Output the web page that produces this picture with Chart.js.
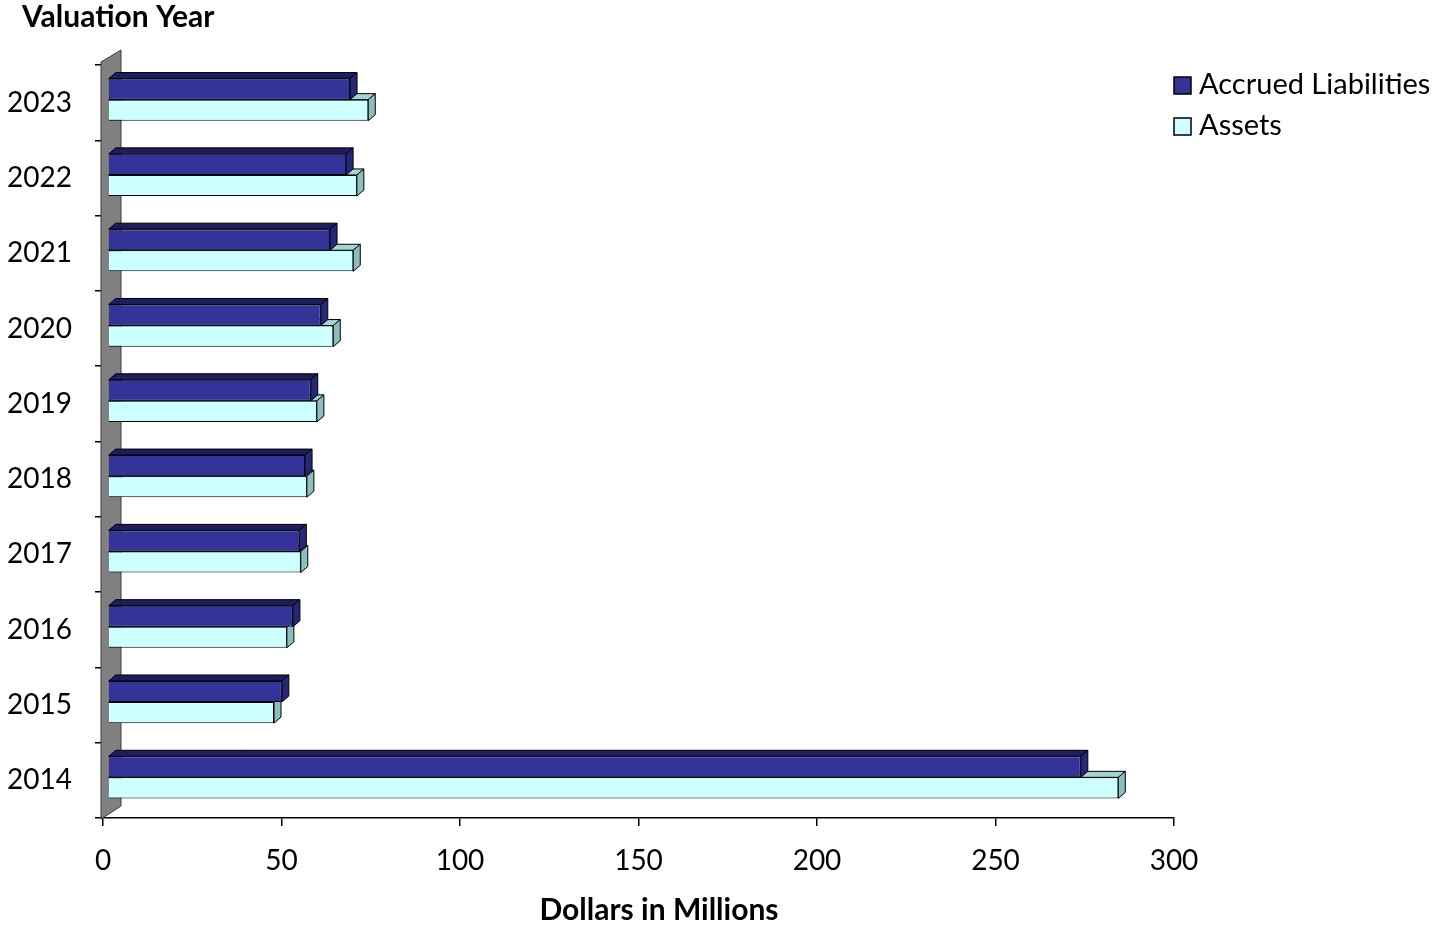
<!DOCTYPE html>
<html>
<head>
<meta charset="utf-8">
<script src="https://cdn.jsdelivr.net/npm/chart.js@4"></script>
<style>
  body { margin: 0; background: #fff; }
  #wrap { width: 1437px; height: 927px; }
</style>
</head>
<body>
<div id="wrap"><canvas id="valuation" width="1437" height="927"></canvas></div>
<script>
const years = ['2023', '2022', '2021', '2020', '2019', '2018', '2017', '2016', '2015', '2014'];
const accruedLiabilities = [67.8, 66.7, 62.2, 59.6, 56.8, 55.2, 53.6, 51.8, 48.7, 272.5];
const assets = [72.9, 69.7, 68.7, 63.1, 58.5, 55.7, 54.0, 50.1, 46.5, 283.0];
const xTicks = [0, 50, 100, 150, 200, 250, 300];

const FONT = 'Lato, "Open Sans", sans-serif';
const DX = 7, DY = 6;        // depth of the 3d bars
const SHIFT_X = 5, SHIFT_Y = -3;

const faces = [
  { top: '#1d1d60', side: '#26267a' },
  { top: '#a3d3d3', side: '#8dbebe' }
];

// gray back wall, 3d faces of the bars, titles and legend
const bars3d = {
  id: 'bars3d',
  beforeDatasetsDraw(chart) {
    const ctx = chart.ctx;
    const area = chart.chartArea;
    ctx.save();
    ctx.fillStyle = '#808080';
    ctx.strokeStyle = '#3a3a3a';
    ctx.lineWidth = 1;
    ctx.beginPath();
    ctx.moveTo(area.left - 2, area.top - 3);
    ctx.lineTo(area.left + 18, area.top - 15);
    ctx.lineTo(area.left + 18, area.bottom - 12);
    ctx.lineTo(area.left - 2, area.bottom + 1);
    ctx.closePath();
    ctx.fill();
    ctx.stroke();
    ctx.restore();

    ctx.save();
    ctx.translate(SHIFT_X, SHIFT_Y);
    ctx.strokeStyle = '#000';
    ctx.lineWidth = 1;
    for (let d = chart.data.datasets.length - 1; d >= 0; d--) {
      const meta = chart.getDatasetMeta(d);
      meta.data.forEach(bar => {
        const p = bar.getProps(['x', 'y', 'base', 'height'], true);
        const top = p.y - p.height / 2, bottom = p.y + p.height / 2;
        ctx.fillStyle = faces[d].top;
        ctx.beginPath();
        ctx.moveTo(p.base, top);
        ctx.lineTo(p.base + DX, top - DY);
        ctx.lineTo(p.x + DX, top - DY);
        ctx.lineTo(p.x, top);
        ctx.closePath();
        ctx.fill();
        ctx.stroke();
        ctx.fillStyle = faces[d].side;
        ctx.beginPath();
        ctx.moveTo(p.x, top);
        ctx.lineTo(p.x + DX, top - DY);
        ctx.lineTo(p.x + DX, bottom - DY);
        ctx.lineTo(p.x, bottom);
        ctx.closePath();
        ctx.fill();
        ctx.stroke();
      });
    }
  },
  afterDatasetsDraw(chart) {
    chart.ctx.restore();
  },
  afterDraw(chart) {
    const ctx = chart.ctx;
    ctx.save();
    ctx.fillStyle = '#000';
    ctx.textBaseline = 'middle';
    ctx.font = 'bold 30px ' + FONT;
    ctx.textAlign = 'left';
    ctx.fillText('Valuation Year', 22, 17);
    ctx.textAlign = 'center';
    ctx.fillText('Dollars in Millions', 659, 910);

    ctx.textAlign = 'left';
    ctx.font = '29px ' + FONT;
    chart.data.datasets.forEach((ds, i) => {
      const y = 85 + i * 41;
      ctx.fillStyle = ds.backgroundColor;
      ctx.strokeStyle = '#000';
      ctx.lineWidth = 1.5;
      ctx.fillRect(1174, y - 8, 17, 17);
      ctx.strokeRect(1174, y - 8, 17, 17);
      ctx.fillStyle = '#000';
      ctx.fillText(ds.label, 1199, y);
    });
    ctx.restore();
  }
};

new Chart(document.getElementById('valuation'), {
  type: 'bar',
  data: {
    labels: years,
    datasets: [
      { label: 'Accrued Liabilities', data: accruedLiabilities, backgroundColor: '#333399', borderColor: '#000', borderWidth: 1 },
      { label: 'Assets', data: assets, backgroundColor: '#ccffff', borderColor: '#000', borderWidth: 1 }
    ]
  },
  options: {
    indexAxis: 'y',
    responsive: false,
    animation: false,
    devicePixelRatio: 1,
    layout: { padding: { top: 65, right: 263, bottom: 0, left: 0 } },
    datasets: { bar: { categoryPercentage: 0.56, barPercentage: 1 } },
    plugins: { legend: { display: false }, tooltip: { enabled: false } },
    scales: {
      x: {
        min: 0,
        max: 300,
        afterFit: s => { s.height = 109; },
        afterBuildTicks: s => { s.ticks = xTicks.map(v => ({ value: v })); },
        border: { display: true, color: '#000', width: 1.5 },
        grid: { drawOnChartArea: false, color: '#000', tickLength: 8, lineWidth: 1.5 },
        ticks: { color: '#000', font: { family: FONT, size: 28 }, padding: 18 }
      },
      y: {
        afterFit: s => { s.width = 103; },
        border: { display: false },
        grid: { drawOnChartArea: false, color: '#000', tickLength: 8, lineWidth: 1.5 },
        ticks: { color: '#000', font: { family: FONT, size: 28 }, padding: 23 }
      }
    }
  },
  plugins: [bars3d]
});
</script>
</body>
</html>
